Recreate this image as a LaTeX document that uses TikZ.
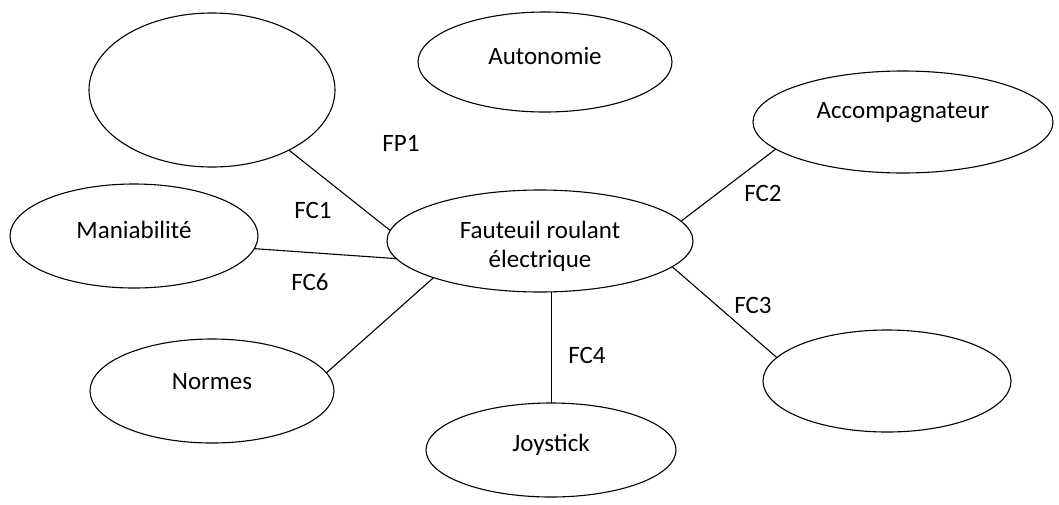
\documentclass[tikz,border=0pt]{standalone}
\usepackage{fontspec}
\setmainfont{Carlito}
\usetikzlibrary{shapes.geometric}
\newcommand{\txtup}[2]{\raisebox{#1}[\height][\depth]{#2}}

\begin{document}
\begin{tikzpicture}[x=1pt, y=-1pt]
\tikzset{ bulle/.style={draw, ellipse, line width=1.1pt, inner sep=0pt, outer sep=0pt, font=\fontsize{25}{29}\selectfont},
          etiq/.style={font=\fontsize{25}{29}\selectfont, inner sep=0pt},
          lien/.style={line width=1.1pt}, }

\useasboundingbox (0,0) rectangle (1059,504);
%\draw [lightgray, dashed, step=50] (0,0) grid (1059,504);

\node [bulle, minimum width=246pt, minimum height=154pt] (E1)   at (212,90)  {};
\node [bulle, minimum width=254pt, minimum height=100pt] (Auto) at (545,62)  {\txtup{6pt}{Autonomie}};
\node [bulle, minimum width=300pt, minimum height=102pt] (Acc)  at (903,122) {\txtup{9pt}{Accompagnateur}};
\node [bulle, minimum width=248pt, minimum height=104pt] (Mani) at (134,236) {\txtup{6pt}{Maniabilité}};
\node [bulle, minimum width=306pt, minimum height=102pt] (FRE)  at (540,241) {\txtup{-6pt}{\begin{tabular}{@{}c@{}}Fauteuil roulant\\électrique\end{tabular}}};
\node [bulle, minimum width=244pt, minimum height=104pt] (Norm) at (212,391) {\txtup{9pt}{Normes}};
\node [bulle, minimum width=250pt, minimum height=94pt]  (Joy)  at (551,450) {\txtup{5pt}{Joystick}};
\node [bulle, minimum width=248pt, minimum height=102pt] (E2)   at (887,381) {};

\draw [lien] (E1.-38)   -- (FRE.176);
\draw [lien] (Mani.-6)  -- (FRE.187);
\draw [lien] (Norm.9)   -- (FRE.-161);
\draw [lien, line width=0.7pt] (Joy.north) -- (Joy.north |- FRE.south);
\draw [lien] (FRE.-11)  -- (E2.168);
\draw [lien] (FRE.8)    -- (Acc.-168);

\node [etiq] (fp1) at (401,143) {FP1};
\node [etiq] (fc1) at (313,210) {FC1};
\node [etiq] (fc6) at (310,282) {FC6};
\node [etiq] (fc2) at (763,193) {FC2};
\node [etiq] (fc3) at (753,305) {FC3};
\node [etiq] (fc4) at (587,355) {FC4};

\end{tikzpicture}
\end{document}
